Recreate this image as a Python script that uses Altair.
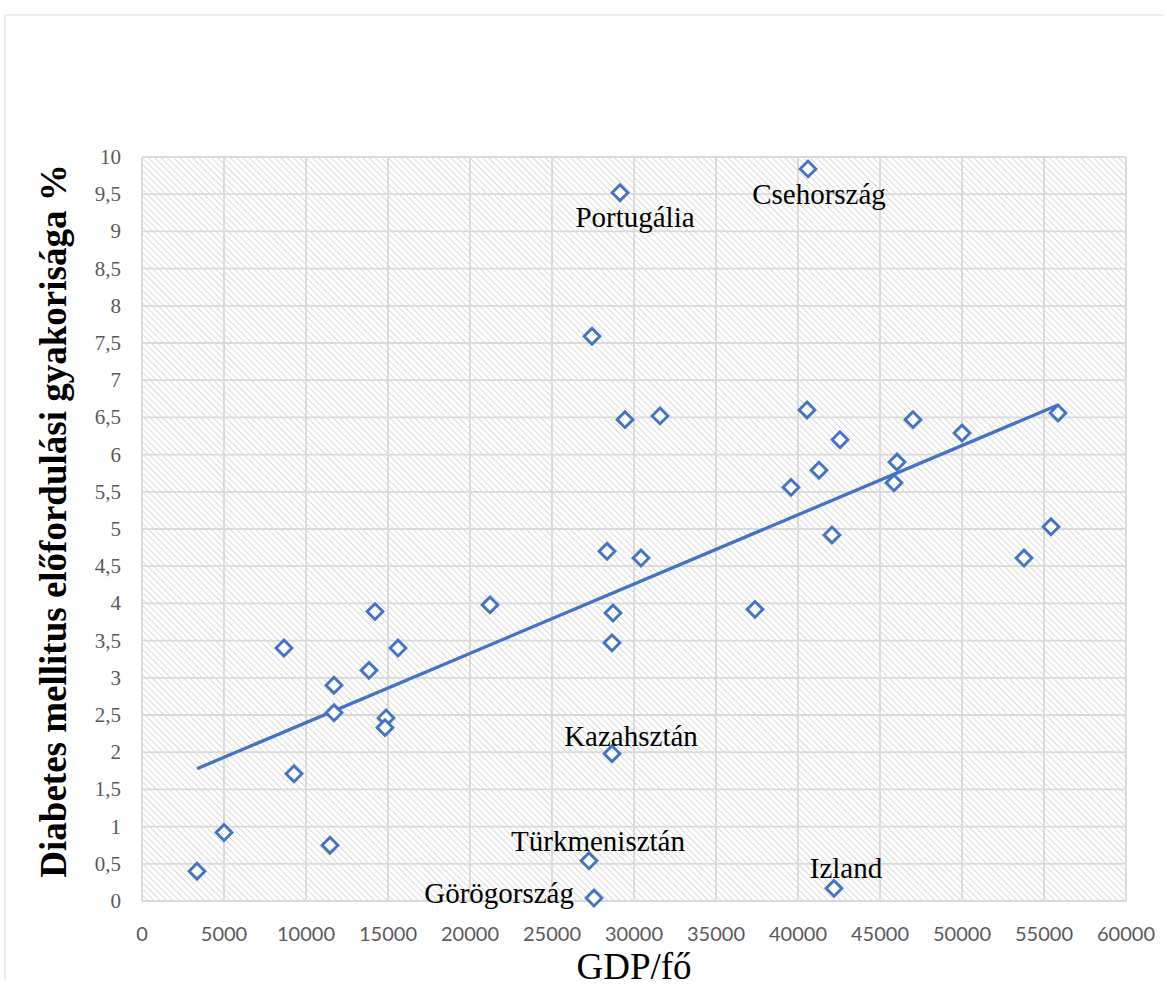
import altair as alt
import pandas as pd

# ---- data ----
gdp = [3354, 5000, 8659, 9268, 11463, 11707, 11707, 13841, 14207, 14878, 14817,
       15610, 21220, 27439, 27256, 27561, 29146, 28354, 28720, 28659, 28659,
       29451, 30427, 31585, 37378, 40610, 40549, 42561, 41280, 39573, 42073,
       47012, 50000, 46037, 45854, 55854, 55427, 53780, 42195]
dm = [0.40, 0.92, 3.40, 1.71, 0.75, 2.90, 2.53, 3.10, 3.89, 2.46, 2.33,
      3.40, 3.98, 7.59, 0.54, 0.04, 9.52, 4.70, 3.87, 3.47, 1.98,
      6.47, 4.61, 6.52, 3.92, 9.84, 6.60, 6.20, 5.79, 5.56, 4.92,
      6.47, 6.29, 5.90, 5.62, 6.56, 5.03, 4.61, 0.17]
country = ["", "", "", "", "", "", "", "", "", "", "",
           "", "", "", "Türkmenisztán", "Görögország", "Portugália", "", "", "", "Kazahsztán",
           "", "", "", "", "Csehország", "", "", "", "", "",
           "", "", "", "", "", "", "", "Izland"]
x_ticks = [0, 5000, 10000, 15000, 20000, 25000, 30000, 35000, 40000, 45000,
           50000, 55000, 60000]
y_ticks = [0, 0.5, 1, 1.5, 2, 2.5, 3, 3.5, 4, 4.5, 5, 5.5, 6, 6.5, 7, 7.5,
           8, 8.5, 9, 9.5, 10]
x_title = "GDP/fő"
y_title = "Diabetes mellitus előfordulási gyakorisága %"

W, H = 984, 744
BLUE = "#4472C4"
GRID = "#d9d9d9"
SERIF = "Liberation Serif"
LABEL = "#595959"

df = pd.DataFrame({"gdp": gdp, "dm": dm, "country": country})
xs = alt.Scale(domain=[0, 60000], nice=False, zero=False)
ys = alt.Scale(domain=[0, 10], nice=False, zero=False)

# ---- diagonal hatch for the plot background (a striped gradient) ----
k = 1.12
span = W * k * (1 + (H / W) ** 2)
period = 6.3
half = 1.3
stops = []
i = 0
while True:
    t0 = i * period / span
    if t0 > 1:
        break
    stops.append({"offset": round(t0, 6), "color": "#d8d8d8"})
    t1 = (i * period + half) / span
    t2 = ((i + 1) * period - half) / span
    if t1 <= 1:
        stops.append({"offset": round(t1, 6), "color": "#ffffff"})
    if t2 <= 1:
        stops.append({"offset": round(t2, 6), "color": "#ffffff"})
    i += 1
hatch = {"gradient": "linear", "x1": 0, "y1": 1, "x2": k, "y2": 1 - k * H / W,
         "stops": stops}

one = alt.Data(values=[{}])

frame_top = alt.Chart(one).mark_rule(color=GRID, strokeWidth=1).encode(
    x=alt.value(-137), x2=alt.value(W + 38), y=alt.value(-142))
frame_left = alt.Chart(one).mark_rule(color=GRID, strokeWidth=1).encode(
    x=alt.value(-137), y=alt.value(-142), y2=alt.value(H + 80))

bg = alt.Chart(one).mark_rect(fill=hatch).encode(
    x=alt.value(0), x2=alt.value(W), y=alt.value(0), y2=alt.value(H))

xgrid = alt.Chart(pd.DataFrame({"v": x_ticks})).mark_rule(
    color=GRID, strokeWidth=1.8).encode(x=alt.X("v:Q", scale=xs, axis=None))
ygrid = alt.Chart(pd.DataFrame({"v": y_ticks})).mark_rule(
    color=GRID, strokeWidth=1.8).encode(y=alt.Y("v:Q", scale=ys, axis=None))

# tick labels, drawn through the scales
xlab = alt.Chart(pd.DataFrame({"v": x_ticks})).mark_text(
    font="Lato", fontSize=20, color=LABEL, align="center",
    baseline="alphabetic").encode(
    x=alt.X("v:Q", scale=xs, axis=None), y=alt.value(H + 40),
    text=alt.Text("v:Q", format="d"))
ylab = alt.Chart(pd.DataFrame({"v": y_ticks})).transform_calculate(
    lbl="replace(format(datum.v, '.1~f'), '.', ',')").mark_text(
    font=SERIF, fontSize=21, color=LABEL, align="right",
    baseline="alphabetic", dy=7).encode(
    y=alt.Y("v:Q", scale=ys, axis=None), x=alt.value(-21),
    text="lbl:N")

# axis titles
xtitle = alt.Chart(one).mark_text(
    font=SERIF, fontSize=37, color="black", align="center",
    baseline="alphabetic", text=x_title).encode(
    x=alt.value(W / 2), y=alt.value(H + 78))
ytitle = alt.Chart(one).mark_text(
    font=SERIF, fontSize=37, fontWeight="bold", color="black",
    align="center", baseline="alphabetic", angle=270, text=y_title).encode(
    x=alt.value(-76), y=alt.value(364))

trend = alt.Chart(df).transform_regression("gdp", "dm").mark_line(
    color=BLUE, strokeWidth=3.3).encode(
    x=alt.X("gdp:Q", scale=xs, axis=None),
    y=alt.Y("dm:Q", scale=ys, axis=None))

points = alt.Chart(df).mark_point(
    shape="diamond", size=250, filled=True, fill="white", fillOpacity=1,
    stroke=BLUE, strokeWidth=2.9, opacity=1).encode(
    x=alt.X("gdp:Q", scale=xs, axis=None),
    y=alt.Y("dm:Q", scale=ys, axis=None))


def label(name, dx, dy, align="center"):
    return alt.Chart(df).transform_filter(
        alt.datum.country == name).mark_text(
        font=SERIF, fontSize=29, color="black", align=align,
        baseline="alphabetic", dx=dx, dy=dy).encode(
        x=alt.X("gdp:Q", scale=xs, axis=None),
        y=alt.Y("dm:Q", scale=ys, axis=None),
        text="country:N")


labels = [
    label("Portugália", 15, 34),
    label("Csehország", 11, 35),
    label("Kazahsztán", 19, -8),
    label("Türkmenisztán", 9, -10),
    label("Görögország", -20, 5, "right"),
    label("Izland", 12, -10),
]

chart = alt.layer(frame_top, frame_left, bg, xgrid, ygrid, xlab, ylab,
                  xtitle, ytitle, trend, points, *labels).properties(
    width=W, height=H,
    padding={"left": 4, "top": 14, "right": 0, "bottom": 0},
    background="white",
).configure_view(stroke=None)

chart.save("out.html", embed_options={"renderer": "svg", "actions": False})
